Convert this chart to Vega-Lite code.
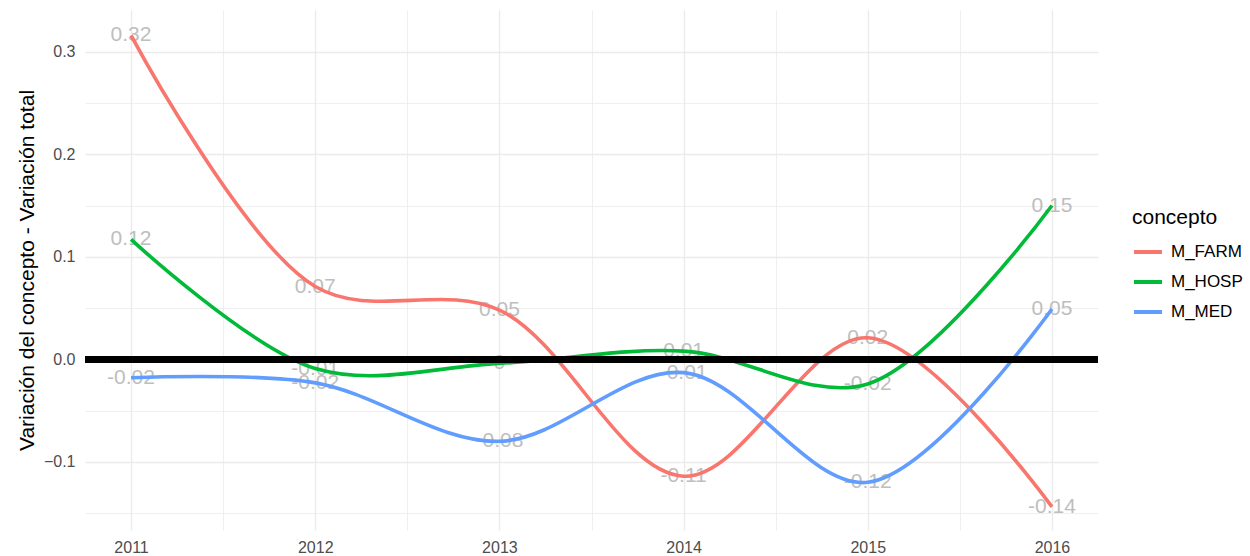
{
  "$schema": "https://vega.github.io/schema/vega-lite/v6.json",
  "width": 1013,
  "height": 520,
  "autosize": "none",
  "padding": {"left": 85, "top": 10, "right": 152, "bottom": 26},
  "background": "white",
  "config": {
    "view": {"stroke": null},
    "font": "Liberation Sans",
    "axis": {
      "domain": false,
      "ticks": false,
      "gridColor": "#EBEBEB",
      "labelColor": "#4D4D4D",
      "labelFont": "Liberation Sans",
      "labelFontSize": 16,
      "titleFont": "Liberation Sans",
      "titleFontWeight": "normal",
      "titleColor": "#000000"
    }
  },
  "data": {
    "values": [
      {"anio": 2011, "concepto": "M_FARM", "valor": 0.316, "etiqueta": "0.32"},
      {"anio": 2012, "concepto": "M_FARM", "valor": 0.071, "etiqueta": "0.07"},
      {"anio": 2013, "concepto": "M_FARM", "valor": 0.048, "etiqueta": "0.05"},
      {"anio": 2014, "concepto": "M_FARM", "valor": -0.114, "etiqueta": "-0.11"},
      {"anio": 2015, "concepto": "M_FARM", "valor": 0.021, "etiqueta": "0.02"},
      {"anio": 2016, "concepto": "M_FARM", "valor": -0.144, "etiqueta": "-0.14"},
      {"anio": 2011, "concepto": "M_HOSP", "valor": 0.117, "etiqueta": "0.12"},
      {"anio": 2012, "concepto": "M_HOSP", "valor": -0.009, "etiqueta": "-0.01"},
      {"anio": 2013, "concepto": "M_HOSP", "valor": -0.004, "etiqueta": "0"},
      {"anio": 2014, "concepto": "M_HOSP", "valor": 0.008, "etiqueta": "0.01"},
      {"anio": 2015, "concepto": "M_HOSP", "valor": -0.024, "etiqueta": "-0.02"},
      {"anio": 2016, "concepto": "M_HOSP", "valor": 0.150, "etiqueta": "0.15"},
      {"anio": 2011, "concepto": "M_MED", "valor": -0.018, "etiqueta": "-0.02"},
      {"anio": 2012, "concepto": "M_MED", "valor": -0.023, "etiqueta": "-0.02"},
      {"anio": 2013, "concepto": "M_MED", "valor": -0.080, "etiqueta": "-0.08"},
      {"anio": 2014, "concepto": "M_MED", "valor": -0.013, "etiqueta": "-0.01"},
      {"anio": 2015, "concepto": "M_MED", "valor": -0.120, "etiqueta": "-0.12"},
      {"anio": 2016, "concepto": "M_MED", "valor": 0.049, "etiqueta": "0.05"}
    ]
  },
  "layer": [
    {
      "mark": {"type": "text", "fontSize": 21, "color": "#BEBEBE", "baseline": "middle", "align": "center", "font": "Liberation Sans"},
      "encoding": {
        "x": {
          "field": "anio",
          "type": "quantitative",
          "scale": {"domain": [2010.75, 2016.25], "nice": false, "zero": false},
          "axis": {
            "title": null,
            "values": [2011, 2011.5, 2012, 2012.5, 2013, 2013.5, 2014, 2014.5, 2015, 2015.5, 2016],
            "labelExpr": "datum.value % 1 == 0 ? format(datum.value, 'd') : ''",
            "labelPadding": 9,
            "gridWidth": {"condition": {"test": "datum.value % 1 == 0", "value": 1.4}, "value": 0.8}
          }
        },
        "y": {
          "field": "valor",
          "type": "quantitative",
          "scale": {"domain": [-0.1665, 0.3407], "nice": false, "zero": false},
          "axis": {
            "title": "Variación del concepto - Variación total",
            "titleFontSize": 21,
            "titleX": -52,
            "titleBaseline": "alphabetic",
            "values": [-0.15, -0.1, -0.05, 0, 0.05, 0.1, 0.15, 0.2, 0.25, 0.3],
            "labelExpr": "round(datum.value * 100) % 10 == 0 ? format(datum.value, '.1f') : ''",
            "labelPadding": 10,
            "gridWidth": {"condition": {"test": "round(datum.value * 100) % 10 == 0", "value": 1.4}, "value": 0.8}
          }
        },
        "text": {"field": "etiqueta"}
      }
    },
    {
      "mark": {"type": "line", "interpolate": "catmull-rom", "strokeWidth": 3.6},
      "encoding": {
        "x": {"field": "anio", "type": "quantitative"},
        "y": {"field": "valor", "type": "quantitative"},
        "color": {
          "field": "concepto",
          "type": "nominal",
          "scale": {"domain": ["M_FARM", "M_HOSP", "M_MED"], "range": ["#F8766D", "#00BA38", "#619CFF"]},
          "legend": {
            "title": "concepto",
            "orient": "none",
            "legendX": 1047,
            "legendY": 197,
            "titleFontSize": 21,
            "titleFontWeight": "normal",
            "titleColor": "#000000",
            "titleFont": "Liberation Sans",
            "titlePadding": 8,
            "labelFontSize": 17,
            "labelColor": "#000000",
            "labelFont": "Liberation Sans",
            "labelOffset": 7,
            "symbolType": "stroke",
            "symbolSize": 784,
            "symbolStrokeWidth": 4,
            "rowPadding": 6
          }
        }
      }
    },
    {
      "mark": {"type": "rule", "color": "#000000", "strokeWidth": 6},
      "encoding": {"y": {"datum": 0, "type": "quantitative"}}
    }
  ]
}
